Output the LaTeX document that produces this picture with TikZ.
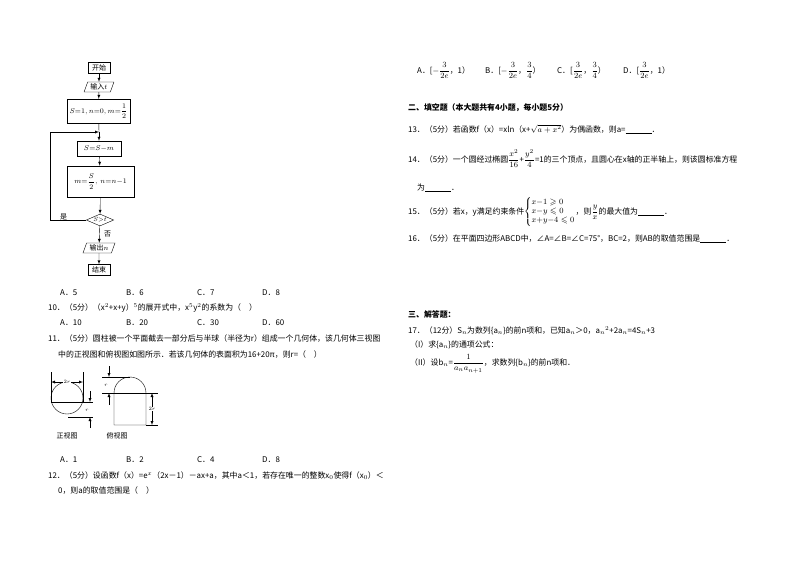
\documentclass[tikz,border=0pt]{standalone}
\usepackage{amsmath,amssymb}
\usepackage{fontspec}
\setmainfont{Noto Sans CJK SC}
\usetikzlibrary{shapes.geometric}
\begin{document}
\begin{tikzpicture}[x=1pt,y=-1pt,font=\fontsize{7.9}{9}\selectfont,
  t/.style={anchor=base west,inner sep=0pt},
  fb/.style={draw,thin,minimum height=11pt,inner sep=1pt,font=\fontsize{7}{8}\selectfont},
  para/.style={draw,thin,trapezium,trapezium left angle=70,trapezium right angle=110,minimum height=10pt,inner sep=1pt,font=\fontsize{7}{8}\selectfont},
  ar/.style={-latex,thin},
  dim/.style={-latex,thin}]
\useasboundingbox (0,0) rectangle (800,565);
% flowchart
\node[fb,minimum width=22pt] (st) at (99,68) {开始};
\node[para,minimum width=30pt] (in) at (99,87) {输入$t$};
\node[fb,minimum width=63pt,minimum height=24pt] (b1) at (98.5,111) {$S{=}1,n{=}0,m{=}\dfrac12$};
\coordinate (j) at (99,132);
\node[fb,minimum width=44pt,minimum height=15pt] (b2) at (99,148.5) {$S{=}S{-}m$};
\node[fb,minimum width=67pt,minimum height=31pt] (b3) at (100.5,181.5) {$m{=}\dfrac{S}{2},\ n{=}n{-}1$};
\node[draw,thin,diamond,aspect=2.3,inner sep=0.5pt,font=\fontsize{6.5}{7}\selectfont] (d) at (100,220) {$S{>}t$};
\node[para,minimum width=32pt] (out) at (99,248) {输出$n$};
\node[fb,minimum width=22pt] (en) at (99,270) {结束};
\draw[ar] (st) -- (in);
\draw[ar] (in) -- (b1);
\draw[thin] (b1) -- (j);
\draw[ar] (j) -- (b2);
\draw[ar] (b2) -- (b3);
\draw[ar] (b3) -- (d);
\draw[ar] (d) -- (out);
\draw[ar] (out) -- (en);
\draw[ar] (d.west) -| (50,132) -- (j);
\node[t,font=\fontsize{7}{8}\selectfont] (yes) at (60,219) {是};
\node[t,font=\fontsize{7}{8}\selectfont] (no) at (104,236) {否};
% left column text
\node[t] (q9a) at (60,295) {A．5}; \node[t] (q9b) at (126,295) {B．6};
\node[t] (q9c) at (197,295) {C．7}; \node[t] (q9d) at (262,295) {D．8};
\node[t] (q10) at (48,310) {10．（5分）（x$^2$+x+y）$^5$的展开式中，x$^5$y$^2$的系数为（\quad ）};
\node[t] (q10a) at (60,325) {A．10}; \node[t] (q10b) at (126,325) {B．20};
\node[t] (q10c) at (197,325) {C．30}; \node[t] (q10d) at (262,325) {D．60};
\node[t] (q11) at (48,341) {11．（5分）圆柱被一个平面截去一部分后与半球（半径为r）组成一个几何体，该几何体三视图};
\node[t] (q11b) at (58,357) {中的正视图和俯视图如图所示．若该几何体的表面积为16+20π，则r=（\quad ）};
% front view
\draw[thin] (67,398) circle (16);
\draw[thin] (51,372) -- (51,402) (83,372) -- (83,402);
\draw[thin] (51,402) -- (93,402) (68,417) -- (93,417);
\draw[dim] (67,382) -- (51,382); \draw[dim] (67,382) -- (83,382);
\node[fill=white,inner sep=0.3pt,font=\fontsize{5.5}{6}\selectfont] (l2r) at (67,382) {$2r$};
\draw[dim] (90,391) -- (90,402); \draw[dim] (90,428) -- (90,417);
\node[font=\fontsize{5.5}{6}\selectfont,inner sep=0pt] (lr1) at (87,410) {$r$};
\node[font=\fontsize{7}{8}\selectfont] (fv) at (67,436) {正视图};
% top view
\draw[thin] (114,425) -- (114,393) arc (180:360:16) -- (146,425) -- cycle;
\draw[thin] (102,393) -- (158,393) (102,377) -- (130,377) (146,425) -- (158,425);
\draw[dim] (109,366) -- (109,377); \draw[dim] (109,405) -- (109,393);
\node[font=\fontsize{5.5}{6}\selectfont,inner sep=0pt] (lr2) at (106,385) {$r$};
\draw[dim] (152,409) -- (152,393); \draw[dim] (152,409) -- (152,425);
\node[fill=white,inner sep=0.3pt,font=\fontsize{5.5}{6}\selectfont] (l2r2) at (152,409) {$2r$};
\node[font=\fontsize{7}{8}\selectfont] (tv) at (117,436) {俯视图};
\node[t] (q11a) at (60,462) {A．1}; \node[t] (q11bb) at (126,462) {B．2};
\node[t] (q11c) at (197,462) {C．4}; \node[t] (q11d) at (262,462) {D．8};
\node[t] (q12) at (48,478) {12．（5分）设函数f（x）=e$^x$（2x－1）－ax+a，其中a＜1，若存在唯一的整数x$_0$使得f（x$_0$）＜};
\node[t] (q12b) at (58,493) {0，则a的取值范围是（\quad ）};
% right column
\node[t] (o12a) at (417,73) {A．[$-\dfrac{3}{2e}$，1）};
\node[t] (o12b) at (485,73) {B．[$-\dfrac{3}{2e}$，$\dfrac34$）};
\node[t] (o12c) at (557,73) {C．[$\dfrac{3}{2e}$，$\dfrac34$）};
\node[t] (o12d) at (623,73) {D．[$\dfrac{3}{2e}$，1）};
\node[t,font=\fontsize{7.9}{9}\bfseries] (h2) at (408,110) {二、填空题（本大题共有4小题，每小题5分）};
\node[t] (q13) at (408,132) {13．（5分）若函数f（x）=xln（x+$\sqrt{a+x^2}$）为偶函数，则a=\rule[-1pt]{26pt}{0.4pt}．};
\node[t] (q14) at (408,162) {14．（5分）一个圆经过椭圆$\dfrac{x^2}{16}$+$\dfrac{y^2}{4}$=1的三个顶点，且圆心在x轴的正半轴上，则该圆标准方程};
\node[t] (q14b) at (417,190) {为\rule[-1pt]{26pt}{0.4pt}．};
\node[t] (q15) at (408,214) {15．（5分）若x，y满足约束条件$\left\{\begin{array}{@{}l@{}}x{-}1\geqslant0\\ x{-}y\leqslant0\\ x{+}y{-}4\leqslant0\end{array}\right.$，则$\dfrac{y}{x}$的最大值为\rule[-1pt]{26pt}{0.4pt}．};
\node[t] (q16) at (408,241) {16．（5分）在平面四边形ABCD中，∠A=∠B=∠C=75°，BC=2，则AB的取值范围是\rule[-1pt]{26pt}{0.4pt}．};
\node[t,font=\fontsize{7.9}{9}\bfseries] (h3) at (408,317) {三、解答题：};
\node[t] (q17) at (408,333) {17．（12分）S$_n$为数列\{a$_n$\}的前n项和，已知a$_n$＞0，a$_n{}^2$+2a$_n$=4S$_n$+3};
\node[t] (q17a) at (410,347) {（I）求\{a$_n$\}的通项公式：};
\node[t] (q17b) at (410,365) {（II）设b$_n$=$\dfrac{1}{a_na_{n+1}}$，求数列\{b$_n$\}的前n项和．};
\end{tikzpicture}
\end{document}
